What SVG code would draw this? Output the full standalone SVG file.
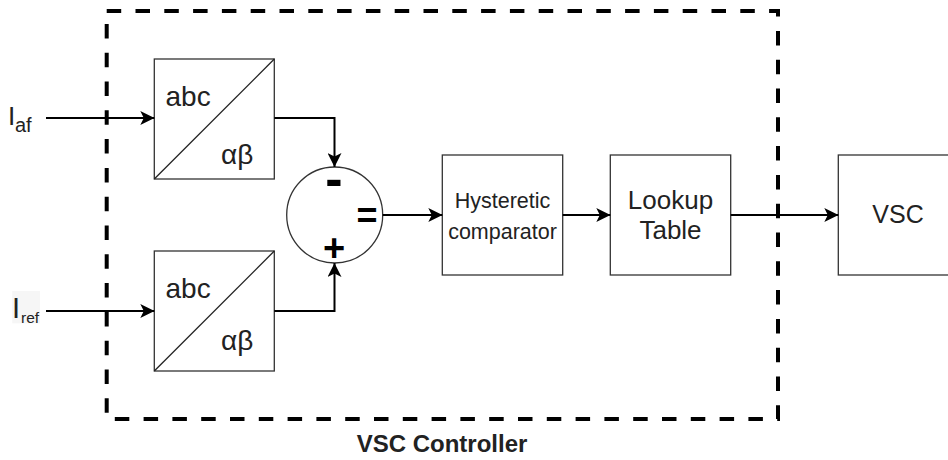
<svg xmlns="http://www.w3.org/2000/svg" width="948" height="460" viewBox="0 0 948 460">
  <defs>
    <marker id="arrow" markerUnits="userSpaceOnUse" markerWidth="14" markerHeight="14" refX="14" refY="7" orient="auto">
      <path d="M0,0 L14,7 L0,14 L3.5,7 Z" fill="#000"/>
    </marker>
    <style>
      .box { fill: #fff; stroke: #333; stroke-width: 1.3; }
      .diag { stroke: #222; stroke-width: 1.3; fill: none; }
      .wire { fill: none; stroke: #000; stroke-width: 2; marker-end: url(#arrow); }
      .txt { font-family: "Liberation Sans", Arial, sans-serif; fill: #222; }
      .mid { text-anchor: middle; }
      .sign { font-family: "Liberation Sans", Arial, sans-serif; font-weight: bold; fill: #000; text-anchor: middle; }
      .frame { fill: none; stroke: #000; stroke-width: 4; stroke-dasharray: 14.5 14.3; }
    </style>
  </defs>

  <rect width="948" height="460" fill="#fff"/>

  <!-- controller boundary -->
  <g id="vsc-controller">
    <path class="frame" d="M106.7,11 H778 V419 H106.7 Z"/>
    <text class="txt mid" x="442" y="451.7" font-size="24" font-weight="bold" fill="#111">VSC Controller</text>
  </g>

  <!-- input labels -->
  <g id="label-iaf">
    <text class="txt" x="8" y="124.5" font-size="26">I</text>
    <text class="txt" x="15" y="132.3" font-size="20">af</text>
  </g>
  <g id="label-iref">
    <rect x="12.3" y="291" width="27.7" height="32.3" fill="#f6f6f6"/>
    <text class="txt" x="12" y="317.7" font-size="29">I</text>
    <text class="txt" x="21" y="322.7" font-size="15.5">ref</text>
  </g>

  <!-- abc to alpha-beta transforms -->
  <g id="transform-af">
    <rect class="box" x="154.3" y="59" width="120" height="120"/>
    <line class="diag" x1="154.3" y1="179" x2="274.3" y2="59"/>
    <text class="txt" x="165.5" y="105.7" font-size="28">abc</text>
    <text class="txt" x="221" y="164" font-size="28">αβ</text>
  </g>
  <g id="transform-ref">
    <rect class="box" x="154.3" y="251" width="120" height="120"/>
    <line class="diag" x1="154.3" y1="371" x2="274.3" y2="251"/>
    <text class="txt" x="165.5" y="297.7" font-size="28">abc</text>
    <text class="txt" x="221" y="350" font-size="28">αβ</text>
  </g>

  <!-- summing junction -->
  <g id="sum">
    <circle cx="334.7" cy="215" r="48" fill="#fff" stroke="#333" stroke-width="1.3"/>
    <text class="sign" x="334" y="196" font-size="52">-</text>
    <text class="sign" x="367" y="228" font-size="36">=</text>
    <text class="sign" x="334" y="261" font-size="38">+</text>
  </g>

  <!-- hysteretic comparator -->
  <g id="comparator">
    <rect class="box" x="442.3" y="155" width="120.4" height="120"/>
    <text class="txt mid" x="502.5" y="208.3" font-size="21.5" fill="#333">Hysteretic</text>
    <text class="txt mid" x="502.5" y="239" font-size="21.5" fill="#333">comparator</text>
  </g>

  <!-- lookup table -->
  <g id="lookup">
    <rect class="box" x="610.3" y="155" width="120.4" height="120"/>
    <text class="txt mid" x="670.5" y="209" font-size="26">Lookup</text>
    <text class="txt mid" x="670.5" y="239" font-size="26">Table</text>
  </g>

  <!-- converter -->
  <g id="vsc">
    <rect class="box" x="838.3" y="155" width="120" height="120"/>
    <text class="txt mid" x="898" y="223.3" font-size="25">VSC</text>
  </g>

  <!-- signal connectors -->
  <g id="connectors">
    <path class="wire" d="M46,118 H154.3"/>
    <path class="wire" d="M46,311 H154.3"/>
    <path class="wire" d="M274.3,118 H334.5 V167"/>
    <path class="wire" d="M274.3,311 H334.5 V263"/>
    <path class="wire" d="M382.7,215 H442.3"/>
    <path class="wire" d="M562.7,215 H610.3"/>
    <path class="wire" d="M730.7,215 H838.3"/>
  </g>
</svg>
